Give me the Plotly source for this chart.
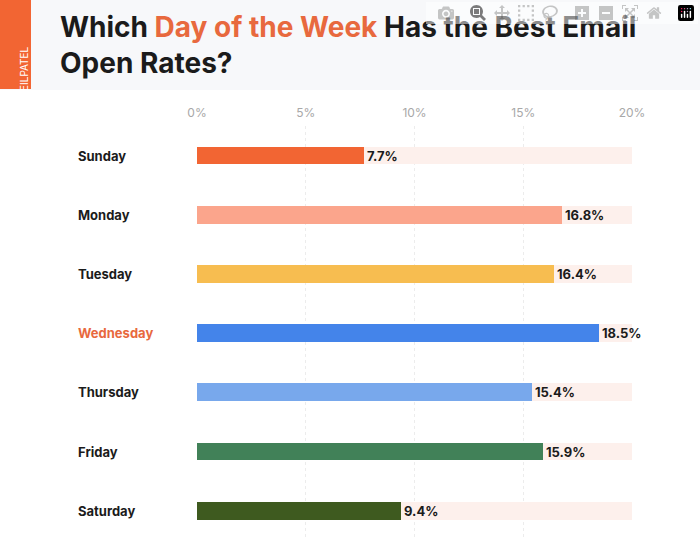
import plotly.graph_objects as go

days = ["Sunday", "Monday", "Tuesday", "Wednesday", "Thursday", "Friday", "Saturday"]
open_rates = [7.7, 16.8, 16.4, 18.5, 15.4, 15.9, 9.4]
bar_colors = ["#f26533", "#fba58c", "#f7bd50", "#4484ea", "#78a8ec", "#418158", "#3e5a1f"]
tick_vals = [0, 5, 10, 15, 20]
tick_text = ["0%", "5%", "10%", "15%", "20%"]
axis_max = 20

fig = go.Figure()

# background track
fig.add_trace(go.Bar(
    y=days, x=[axis_max] * len(days), orientation="h",
    marker=dict(color="#fdf0ec", line=dict(width=0)), width=0.3,
    hoverinfo="skip", showlegend=False,
))
fig.add_trace(go.Bar(
    y=days, x=open_rates, orientation="h",
    marker=dict(color=bar_colors, line=dict(width=0)), width=0.3,
    text=[f"{v}%" for v in open_rates], textposition="outside",
    textfont=dict(family="Inter", size=13, color="#1b1b1b", weight="bold"),
    cliponaxis=False, showlegend=False,
))

# day labels
for d in days:
    fig.add_annotation(
        x=76 / 700, xref="paper", y=d, yref="y", xanchor="left",
        text=f"<b>{d}</b>", showarrow=False,
        font=dict(family="Inter", size=13, color="#e8693e" if d == "Wednesday" else "#1b1b1b"),
    )

# header
fig.add_shape(type="rect", xref="paper", yref="paper", x0=0, x1=1, y0=1 - 90 / 556, y1=1,
              fillcolor="#f7f8fa", line=dict(width=0), layer="below")
fig.add_shape(type="rect", xref="paper", yref="paper", x0=0, x1=31 / 700, y0=1 - 89 / 556, y1=1,
              fillcolor="#f26533", line=dict(width=0))
fig.add_annotation(x=15.5 / 700, y=1 - 45 / 556, xref="paper", yref="paper", text="NEILPATEL",
                   textangle=-90, showarrow=False, font=dict(family="Inter", size=10, color="white"))
fig.add_annotation(
    x=58 / 700, y=1 - 8 / 556, xref="paper", yref="paper", xanchor="left", yanchor="top", align="left",
    text="<b>Which <span style='color:#e8693e'>Day of the Week</span> Has the Best Email<br>Open Rates?</b>",
    showarrow=False, font=dict(family="Inter", size=28, color="#1b1b1b"),
)

fig.update_layout(
    width=700, height=556, margin=dict(l=0, r=0, t=0, b=0),
    paper_bgcolor="white", plot_bgcolor="white",
    barmode="overlay", bargap=0,
    xaxis=dict(domain=[197 / 700, 632 / 700], range=[0, axis_max], side="top",
               tickvals=tick_vals, ticktext=tick_text, showgrid=True, automargin=False,
               gridcolor="#ececec", griddash="dot", zeroline=False,
               tickfont=dict(family="Inter", size=12, color="#a8a8a8"), ticklabelstandoff=6),
    yaxis=dict(domain=[0.028, 0.773], range=[6.5, -0.5], showticklabels=False,
               showgrid=False, automargin=False),
)

fig.write_html("out.html", post_script="document.body.style.margin='0';document.body.style.overflow='hidden';")
